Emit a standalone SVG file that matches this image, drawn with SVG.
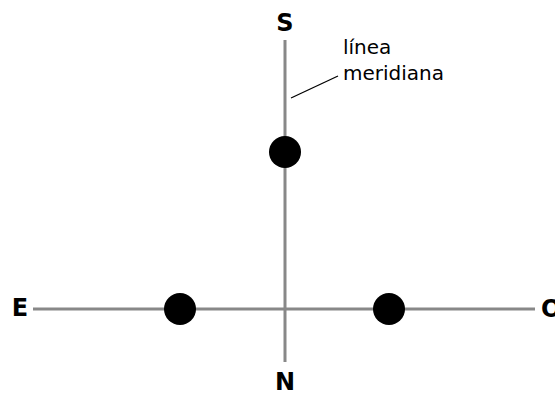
<svg xmlns="http://www.w3.org/2000/svg" width="555" height="394" viewBox="0 0 555 394">
<style>
.ax{stroke:#888;stroke-width:3;fill:none}
.lead{stroke:#000;stroke-width:1.3;fill:none}
.dot{fill:#000}
.card{font-family:"DejaVu Sans",Verdana,sans-serif;font-weight:bold;font-size:24px;fill:#000}
.lbl{font-family:"DejaVu Sans",Verdana,sans-serif;font-size:20px;fill:#000}
</style>
<rect width="555" height="394" fill="#fff"/>
<g id="connectors">
<line class="ax" x1="285" y1="40" x2="285" y2="362"/>
<line class="ax" x1="33" y1="309" x2="535" y2="309"/>
<line class="lead" x1="291" y1="98" x2="338" y2="76"/>
</g>
<g id="dot-top"><circle class="dot" cx="285" cy="152" r="16"/></g>
<g id="dot-left"><circle class="dot" cx="180" cy="309" r="16"/></g>
<g id="dot-right"><circle class="dot" cx="389" cy="309" r="16"/></g>
<g id="label-S"><text class="card" x="285" y="31" text-anchor="middle">S</text></g>
<g id="label-N"><text class="card" x="285" y="390" text-anchor="middle">N</text></g>
<g id="label-E"><text class="card" x="20" y="316" text-anchor="middle">E</text></g>
<g id="label-O"><text class="card" x="541" y="317">O</text></g>
<g id="label-meridiana"><text class="lbl" x="343" y="54">línea</text><text class="lbl" x="343" y="80">meridiana</text></g>
</svg>
